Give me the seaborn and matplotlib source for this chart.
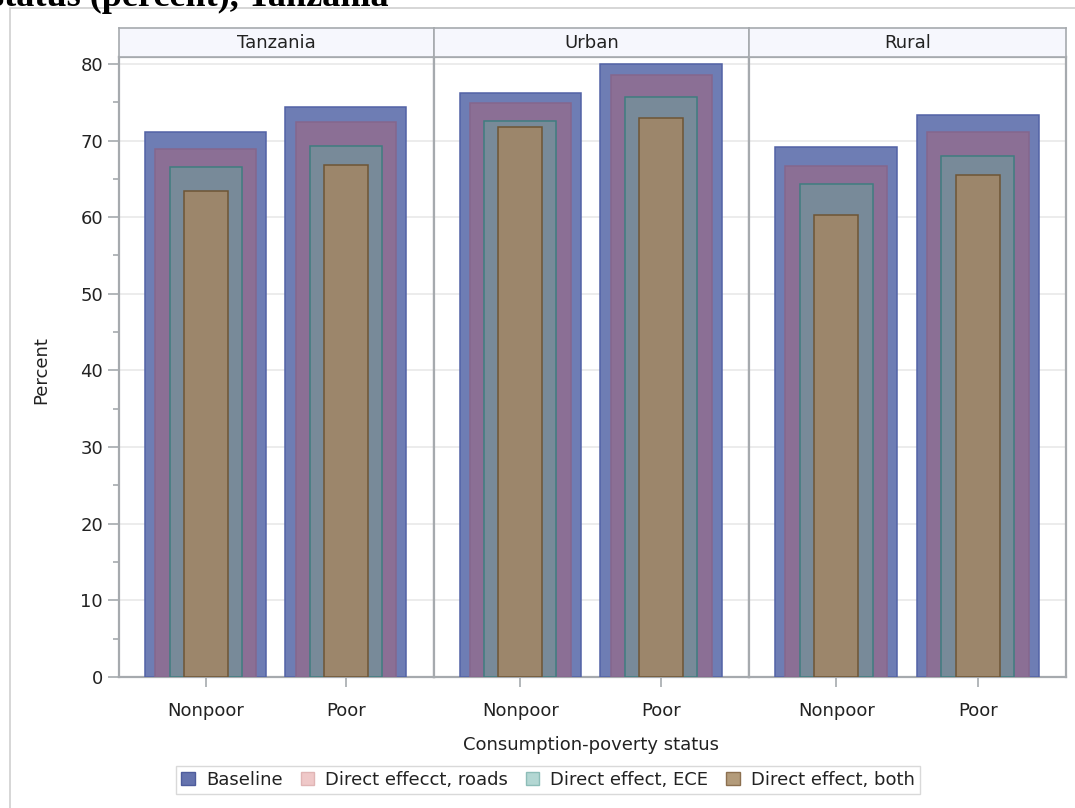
import matplotlib
matplotlib.use("Agg")
import matplotlib.pyplot as plt
import matplotlib.patches as mpatches
import seaborn as sns
import pandas as pd

# data
groups = ["Tanzania", "Urban", "Rural"]
status = ["Nonpoor", "Poor"]
baseline = [71.1, 74.4, 76.2, 80.0, 69.2, 73.3]
roads = [68.9, 72.4, 74.9, 78.5, 66.7, 71.1]
ece = [66.6, 69.3, 72.6, 75.7, 64.3, 68.0]
both = [63.4, 66.8, 71.8, 73.0, 60.3, 65.5]

series_names = ["Baseline", "Direct effecct, roads", "Direct effect, ECE", "Direct effect, both"]

df = pd.DataFrame({
    "group": [g for g in groups for _ in status],
    "status": status * len(groups),
    "Baseline": baseline,
    "Direct effecct, roads": roads,
    "Direct effect, ECE": ece,
    "Direct effect, both": both,
})

# bar look: fill, edge, width (nested bars)
fills = ["#6E7DB4", "#8B6F95", "#788A99", "#9C866B"]
edges = ["#5262A6", "#85668D", "#3F7D80", "#6E5535"]
widths = [0.862, 0.718, 0.513, 0.314]
legend_fills = ["#6573AE", "#EFC8C8", "#B3D7D3", "#B39B7A"]
legend_edges = ["#4E5C9C", "#E0B5B5", "#8DBDB8", "#8C7050"]

sns.set_theme(style="white")
plt.rcParams["font.family"] = ["DejaVu Sans"]

W, H = 1075, 808
fig = plt.figure(figsize=(W / 100, H / 100), dpi=100)

frame_col = "#A6AAAE"
txt_col = "#222222"
panel_x = [119, 433.5, 749, 1066]
y_top, y_bot = 57, 677
hdr_top = 28

# outer frame of the figure box
fig.patches.append(mpatches.Rectangle((10 / W, -0.1), 1.2, 1 - 8 / H + 0.1,
                                      transform=fig.transFigure, fill=False,
                                      edgecolor="#CFCFCF", linewidth=1.2))

for i, g in enumerate(groups):
    left = panel_x[i] / W
    width = (panel_x[i + 1] - panel_x[i]) / W
    ax = fig.add_axes([left, 1 - y_bot / H, width, (y_bot - y_top) / H])
    sub = df[df["group"] == g]
    for name, fc, ec, w in zip(series_names, fills, edges, widths):
        sns.barplot(data=sub, x="status", y=name, order=status, width=w,
                    color=fc, edgecolor=ec, linewidth=1.1, saturation=1,
                    ax=ax, zorder=3)
    ax.set_xlim(-0.617, 1.624)
    ax.set_ylim(0, 80.9)
    ax.set_yticks(range(0, 81, 10))
    ax.set_yticks(range(5, 80, 10), minor=True)
    ax.grid(axis="y", color="#E9E9E9", linewidth=1.2, zorder=0)
    ax.set_axisbelow(True)
    ax.set_xlabel("")
    ax.set_ylabel("")
    for s in ax.spines.values():
        s.set_color(frame_col)
        s.set_linewidth(1.6)
    ax.tick_params(axis="x", bottom=True, length=7, width=1.2, color=frame_col,
                   labelsize=13, pad=11, labelcolor=txt_col)
    if i == 0:
        ax.tick_params(axis="y", which="major", left=True, length=8, width=1.2,
                       color=frame_col, labelsize=13, labelcolor=txt_col)
        ax.tick_params(axis="y", which="minor", left=True, length=4, width=1.2,
                       color=frame_col)
    else:
        ax.tick_params(axis="y", which="both", left=False, labelleft=False)

    # header strip
    hax = fig.add_axes([left, 1 - y_top / H, width, (y_top - hdr_top) / H])
    hax.set_facecolor("#F6F7FD")
    hax.set_xticks([])
    hax.set_yticks([])
    for s in hax.spines.values():
        s.set_color(frame_col)
        s.set_linewidth(1.2)
    hax.text(0.5, 0.5, g, ha="center", va="center", fontsize=13, color=txt_col,
             transform=hax.transAxes)

fig.text(41 / W, 1 - 370 / H, "Percent", rotation=90, ha="center", va="center",
         fontsize=13, color=txt_col)
fig.text(591 / W, 1 - 745 / H, "Consumption-poverty status", ha="center",
         va="center", fontsize=13, color=txt_col)

# title fragment, cut off at top of image
fig.text(-10 / W, 1 - 6 / H, "status (percent), Tanzania", ha="left",
         va="baseline", fontsize=26, fontweight="bold",
         family=["Liberation Serif", "DejaVu Serif"], color="black")

handles = [mpatches.Patch(facecolor=f, edgecolor=e, linewidth=1.0, label=n)
           for n, f, e in zip(series_names, legend_fills, legend_edges)]
leg = fig.legend(handles=handles, loc="center", bbox_to_anchor=(548 / W, 1 - 780 / H),
                 ncol=4, frameon=True, fontsize=13, handlelength=0.75,
                 handleheight=0.75, handletextpad=0.6, columnspacing=1.0,
                 borderpad=0.3, fancybox=False)
leg.get_frame().set_edgecolor("#D0D0D0")
leg.get_frame().set_linewidth(1.0)
for t in leg.get_texts():
    t.set_color(txt_col)

fig.savefig("out.png", dpi=100)
